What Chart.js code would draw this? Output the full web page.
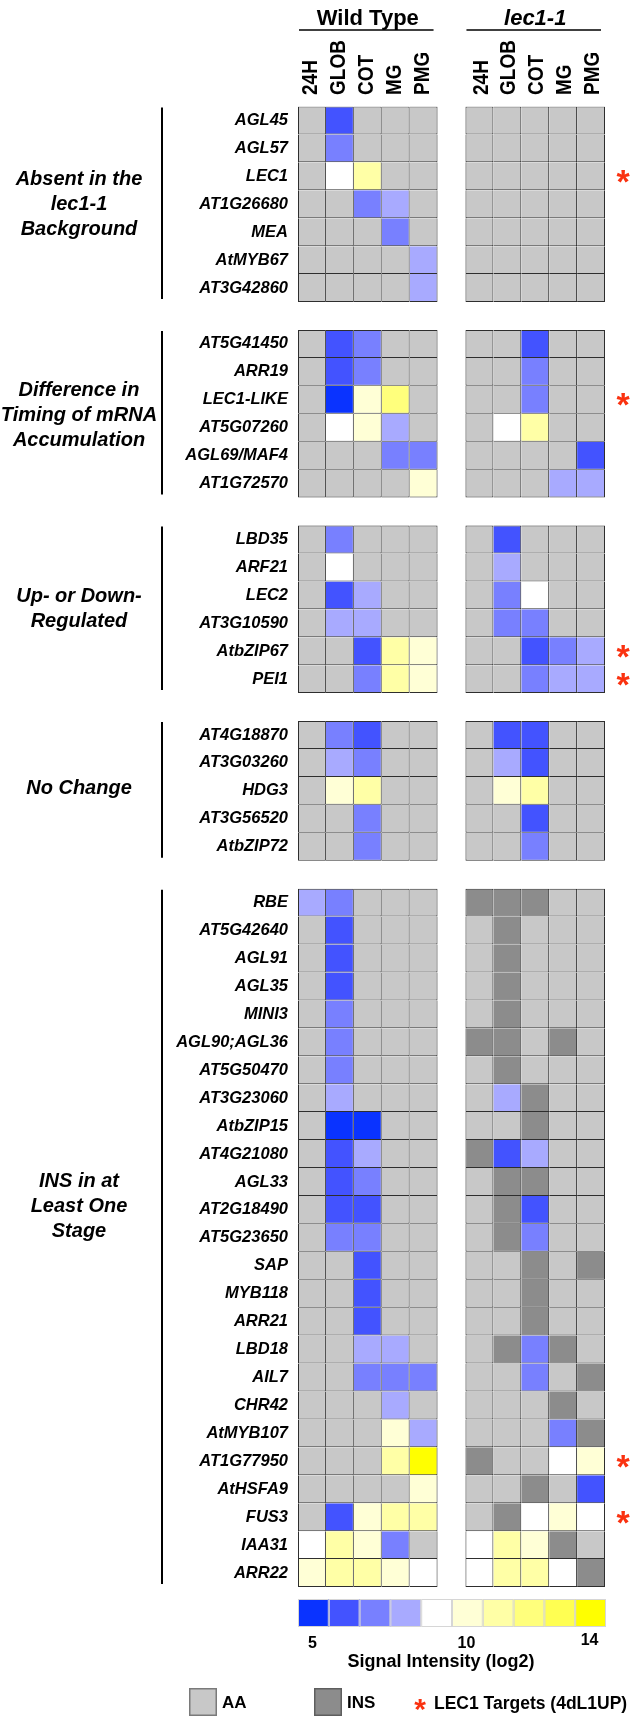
<!DOCTYPE html>
<html>
<head>
<meta charset="utf-8">
<script src="https://cdn.jsdelivr.net/npm/chart.js@4.4.1/dist/chart.umd.min.js"></script>
<style>
  html, body { margin: 0; padding: 0; background: #fff; }
  canvas { display: block; }
</style>
</head>
<body>
<canvas id="heat" width="632" height="1716"></canvas>
<script>
// Cell states: a log2 signal value (5-14), or one of the two call categories
const A = 'AA';   // absent call
const I = 'INS';  // insufficient data

const stages = ['24H', 'GLOB', 'COT', 'MG', 'PMG'];
const genotypes = ['Wild Type', 'lec1-1'];

const intensityLevels = [5, 6, 7, 8, 9, 10, 11, 12, 13, 14];
const intensityColors = ['#0a33ff', '#4353ff', '#7880ff', '#a8aaff', '#ffffff',
                         '#ffffd6', '#ffffa6', '#ffff7c', '#ffff52', '#ffff00'];
const colorbarTicks = [5, 10, 14];
const callColors = { AA: '#c8c8c8', INS: '#8c8c8c' };

// Absent in the lec1-1 background
const absentGenes = ['AGL45', 'AGL57', 'LEC1', 'AT1G26680', 'MEA', 'AtMYB67', 'AT3G42860'];
const absentWT = [
  [A, 6, A, A, A],
  [A, 7, A, A, A],
  [A, 9, 11, A, A],
  [A, A, 7, 8, A],
  [A, A, A, 7, A],
  [A, A, A, A, 8],
  [A, A, A, A, 8]
];
const absentLec = [
  [A, A, A, A, A],
  [A, A, A, A, A],
  [A, A, A, A, A],
  [A, A, A, A, A],
  [A, A, A, A, A],
  [A, A, A, A, A],
  [A, A, A, A, A]
];

// Difference in timing of mRNA accumulation
const timingGenes = ['AT5G41450', 'ARR19', 'LEC1-LIKE', 'AT5G07260', 'AGL69/MAF4', 'AT1G72570'];
const timingWT = [
  [A, 6, 7, A, A],
  [A, 6, 7, A, A],
  [A, 5, 10, 12, A],
  [A, 9, 10, 8, A],
  [A, A, A, 7, 7],
  [A, A, A, A, 10]
];
const timingLec = [
  [A, A, 6, A, A],
  [A, A, 7, A, A],
  [A, A, 7, A, A],
  [A, 9, 11, A, A],
  [A, A, A, A, 6],
  [A, A, A, 8, 8]
];

// Up- or down-regulated
const regulatedGenes = ['LBD35', 'ARF21', 'LEC2', 'AT3G10590', 'AtbZIP67', 'PEI1'];
const regulatedWT = [
  [A, 7, A, A, A],
  [A, 9, A, A, A],
  [A, 6, 8, A, A],
  [A, 8, 8, A, A],
  [A, A, 6, 11, 10],
  [A, A, 7, 11, 10]
];
const regulatedLec = [
  [A, 6, A, A, A],
  [A, 8, A, A, A],
  [A, 7, 9, A, A],
  [A, 7, 7, A, A],
  [A, A, 6, 7, 8],
  [A, A, 7, 8, 8]
];

// No change
const unchangedGenes = ['AT4G18870', 'AT3G03260', 'HDG3', 'AT3G56520', 'AtbZIP72'];
const unchangedWT = [
  [A, 7, 6, A, A],
  [A, 8, 7, A, A],
  [A, 10, 11, A, A],
  [A, A, 7, A, A],
  [A, A, 7, A, A]
];
const unchangedLec = [
  [A, 6, 6, A, A],
  [A, 8, 6, A, A],
  [A, 10, 11, A, A],
  [A, A, 6, A, A],
  [A, A, 7, A, A]
];

// INS in at least one stage
const insGenes = ['RBE', 'AT5G42640', 'AGL91', 'AGL35', 'MINI3', 'AGL90;AGL36', 'AT5G50470',
  'AT3G23060', 'AtbZIP15', 'AT4G21080', 'AGL33', 'AT2G18490', 'AT5G23650', 'SAP', 'MYB118',
  'ARR21', 'LBD18', 'AIL7', 'CHR42', 'AtMYB107', 'AT1G77950', 'AtHSFA9', 'FUS3', 'IAA31', 'ARR22'];
const insWT = [
  [8, 7, A, A, A],
  [A, 6, A, A, A],
  [A, 6, A, A, A],
  [A, 6, A, A, A],
  [A, 7, A, A, A],
  [A, 7, A, A, A],
  [A, 7, A, A, A],
  [A, 8, A, A, A],
  [A, 5, 5, A, A],
  [A, 6, 8, A, A],
  [A, 6, 7, A, A],
  [A, 6, 6, A, A],
  [A, 7, 7, A, A],
  [A, A, 6, A, A],
  [A, A, 6, A, A],
  [A, A, 6, A, A],
  [A, A, 8, 8, A],
  [A, A, 7, 7, 7],
  [A, A, A, 8, A],
  [A, A, A, 10, 8],
  [A, A, A, 11, 14],
  [A, A, A, A, 10],
  [A, 6, 10, 11, 11],
  [9, 11, 10, 7, A],
  [10, 11, 11, 10, 9]
];
const insLec = [
  [I, I, I, A, A],
  [A, I, A, A, A],
  [A, I, A, A, A],
  [A, I, A, A, A],
  [A, I, A, A, A],
  [I, I, A, I, A],
  [A, I, A, A, A],
  [A, 8, I, A, A],
  [A, A, I, A, A],
  [I, 6, 8, A, A],
  [A, I, I, A, A],
  [A, I, 6, A, A],
  [A, I, 7, A, A],
  [A, A, I, A, I],
  [A, A, I, A, A],
  [A, A, I, A, A],
  [A, I, 7, I, A],
  [A, A, 7, A, I],
  [A, A, A, I, A],
  [A, A, A, 7, I],
  [I, A, A, 9, 10],
  [A, A, I, A, 6],
  [A, I, 9, 10, 9],
  [9, 11, 10, I, A],
  [9, 11, 11, 9, I]
];

const lec1Targets = ['LEC1', 'LEC1-LIKE', 'AtbZIP67', 'PEI1', 'AT1G77950', 'FUS3'];

const groups = [
  { title: ['Absent in the', 'lec1-1', 'Background'], genes: absentGenes, wt: absentWT, lec: absentLec, nudge: 0 },
  { title: ['Difference in', 'Timing of mRNA', 'Accumulation'], genes: timingGenes, wt: timingWT, lec: timingLec, nudge: 2 },
  { title: ['Up- or Down-', 'Regulated'], genes: regulatedGenes, wt: regulatedWT, lec: regulatedLec, nudge: 0 },
  { title: ['No Change'], genes: unchangedGenes, wt: unchangedWT, lec: unchangedLec, nudge: -2 },
  { title: ['INS in at', 'Least One', 'Stage'], genes: insGenes, wt: insWT, lec: insLec, nudge: -31 }
];

// Flatten groups into rows, with one empty spacer row between groups
const rowLabels = [];
const rowCells = [];
const groupSpans = [];
groups.forEach((g, gi) => {
  if (gi > 0) { rowLabels.push(''); rowCells.push(null); }
  const start = rowLabels.length;
  g.genes.forEach((name, i) => {
    rowLabels.push(name);
    rowCells.push(g.wt[i].concat(g.lec[i]));
  });
  groupSpans.push({ start, end: rowLabels.length - 1, title: g.title, nudge: g.nudge });
});
const groupTops = new Set(groupSpans.map(s => s.start));

// x slots for the ten columns: one blank slot separates the two genotypes
const columnSlots = [0, 1, 2, 3, 4, 6, 7, 8, 9, 10];

function cellColor(v) {
  if (v === A || v === I) return callColors[v];
  return intensityColors[intensityLevels.indexOf(v)];
}

const FONT = "'Liberation Sans', Arial, Helvetica, sans-serif";

const datasets = columnSlots.map((slot, c) => ({
  label: genotypes[c < 5 ? 0 : 1] + ' ' + stages[c % 5],
  data: rowCells.map(cells => cells ? [slot, slot + 1] : null),
  backgroundColor: rowCells.map(cells => cells ? cellColor(cells[c]) : 'rgba(0,0,0,0)'),
  borderColor: '#2e2e2e',
  borderWidth: ctx => ({
    left: c % 5 === 0 ? 1 : 0,
    right: 1,
    top: groupTops.has(ctx.dataIndex) ? 1 : 0,
    bottom: 1
  }),
  borderSkipped: false,
  inflateAmount: 0,
  grouped: false,
  barPercentage: 1,
  categoryPercentage: 1
}));

const decorations = {
  id: 'decorations',
  afterDraw(chart) {
    const ctx = chart.ctx;
    const xs = chart.scales.x;
    const ys = chart.scales.y;
    const rowH = ys.getPixelForValue(1) - ys.getPixelForValue(0);
    ctx.save();
    ctx.fillStyle = '#000';
    ctx.strokeStyle = '#000';

    // genotype headings with underline
    genotypes.forEach((name, gi) => {
      const left = xs.getPixelForValue(columnSlots[gi * 5]);
      const right = xs.getPixelForValue(columnSlots[gi * 5 + 4] + 1);
      ctx.font = (gi === 1 ? 'italic ' : '') + 'bold 22px ' + FONT;
      ctx.textAlign = 'center';
      ctx.textBaseline = 'alphabetic';
      ctx.fillText(name, (left + right) / 2, 25);
      ctx.lineWidth = 1.5;
      ctx.beginPath();
      ctx.moveTo(left + 1, 30);
      ctx.lineTo(right - 4, 30);
      ctx.stroke();
    });

    // stage names, upright column headers (bold, widened glyphs)
    ctx.font = 'bold 19px ' + FONT;
    ctx.textAlign = 'left';
    ctx.textBaseline = 'alphabetic';
    const capH = 0.716 * 19;
    columnSlots.forEach((slot, c) => {
      const x = xs.getPixelForValue(slot + 0.5) - (c < 5 ? 3 : 0);
      ctx.save();
      ctx.translate(x, 95);
      ctx.scale(1.2, 1);
      ctx.rotate(-Math.PI / 2);
      ctx.fillText(stages[c % 5], 0, capH / 2);
      ctx.restore();
    });

    // group brackets and names
    groupSpans.forEach(span => {
      const top = ys.getPixelForValue(span.start) - rowH / 2;
      const bottom = ys.getPixelForValue(span.end) + rowH / 2;
      ctx.lineWidth = 2;
      ctx.beginPath();
      ctx.moveTo(162, top + 1);
      ctx.lineTo(162, bottom - 3);
      ctx.stroke();
      ctx.font = 'italic bold 20px ' + FONT;
      ctx.textAlign = 'center';
      ctx.textBaseline = 'middle';
      const mid = (top + bottom) / 2 + span.nudge;
      const lh = 25;
      span.title.forEach((line, li) => {
        ctx.fillText(line, 79, mid + (li - (span.title.length - 1) / 2) * lh);
      });
    });

    // LEC1 target markers
    const drawStar = (x, cy, size) => {
      ctx.font = 'bold ' + size + 'px ' + FONT;
      ctx.textAlign = 'center';
      ctx.textBaseline = 'alphabetic';
      const m = ctx.measureText('*');
      const y = cy + (m.actualBoundingBoxAscent - m.actualBoundingBoxDescent) / 2;
      ctx.fillStyle = '#fa3210';
      ctx.fillText('*', x, y);
      ctx.fillStyle = '#000';
    };
    lec1Targets.forEach(name => {
      const idx = rowLabels.indexOf(name);
      drawStar(623, ys.getPixelForValue(idx), 34);
    });

    // colour bar
    const barX = 298, barY = 1599, barW = 30.8, barH = 28;
    intensityLevels.forEach((lvl, i) => {
      ctx.fillStyle = intensityColors[i];
      ctx.fillRect(barX + i * barW, barY, barW, barH);
      ctx.strokeStyle = '#d6d6d6';
      ctx.lineWidth = 1;
      ctx.strokeRect(barX + i * barW + 0.5, barY + 0.5, barW - 1, barH - 1);
    });
    ctx.fillStyle = '#000';
    ctx.font = 'bold 16px ' + FONT;
    ctx.textAlign = 'center';
    ctx.textBaseline = 'middle';
    colorbarTicks.forEach(v => {
      const i = intensityLevels.indexOf(v);
      ctx.fillText(String(v), barX + (i + 0.5) * barW - 1, v === 14 ? 1641 : 1644);
    });
    ctx.font = 'bold 18px ' + FONT;
    ctx.fillText('Signal Intensity (log2)', 441, 1662);

    // call legend
    const swatch = (x, fill, stroke) => {
      ctx.fillStyle = fill;
      ctx.fillRect(x, 1688, 28, 28);
      ctx.strokeStyle = stroke;
      ctx.lineWidth = 1.5;
      ctx.strokeRect(x + 0.75, 1688.75, 26.5, 26.5);
    };
    swatch(189, callColors.AA, '#7a7a7a');
    swatch(314, callColors.INS, '#5e5e5e');
    ctx.fillStyle = '#000';
    ctx.font = 'bold 17px ' + FONT;
    ctx.textAlign = 'left';
    ctx.textBaseline = 'middle';
    ctx.fillText('AA', 222, 1703);
    ctx.fillText('INS', 347, 1703);
    drawStar(420, 1705, 30);
    ctx.fillStyle = '#000';
    ctx.font = 'bold 17.5px ' + FONT;
    ctx.textAlign = 'left';
    ctx.textBaseline = 'middle';
    ctx.fillText('LEC1 Targets (4dL1UP)', 434, 1704);
    ctx.restore();
  }
};

new Chart(document.getElementById('heat'), {
  type: 'bar',
  data: { labels: rowLabels, datasets },
  options: {
    indexAxis: 'y',
    responsive: false,
    animation: false,
    devicePixelRatio: 1,
    layout: { padding: { left: 0, top: 0, right: 27, bottom: 129 } },
    plugins: { legend: { display: false }, tooltip: { enabled: false }, title: { display: false } },
    scales: {
      x: {
        type: 'linear',
        position: 'top',
        min: 0,
        max: 11,
        grid: { display: false, drawTicks: false },
        border: { display: false },
        afterBuildTicks: axis => { axis.ticks = columnSlots.map(s => ({ value: s + 0.5 })); },
        afterFit: axis => { axis.height = 106.5; },
        ticks: { display: false }
      },
      y: {
        type: 'category',
        offset: true,
        grid: { display: false, drawTicks: false },
        border: { display: false },
        afterFit: axis => { axis.width = 298; },
        ticks: {
          autoSkip: false,
          padding: 10,
          color: '#000',
          font: { family: FONT, style: 'italic', weight: 'bold', size: 16.5 }
        }
      }
    }
  },
  plugins: [decorations]
});
</script>
</body>
</html>
